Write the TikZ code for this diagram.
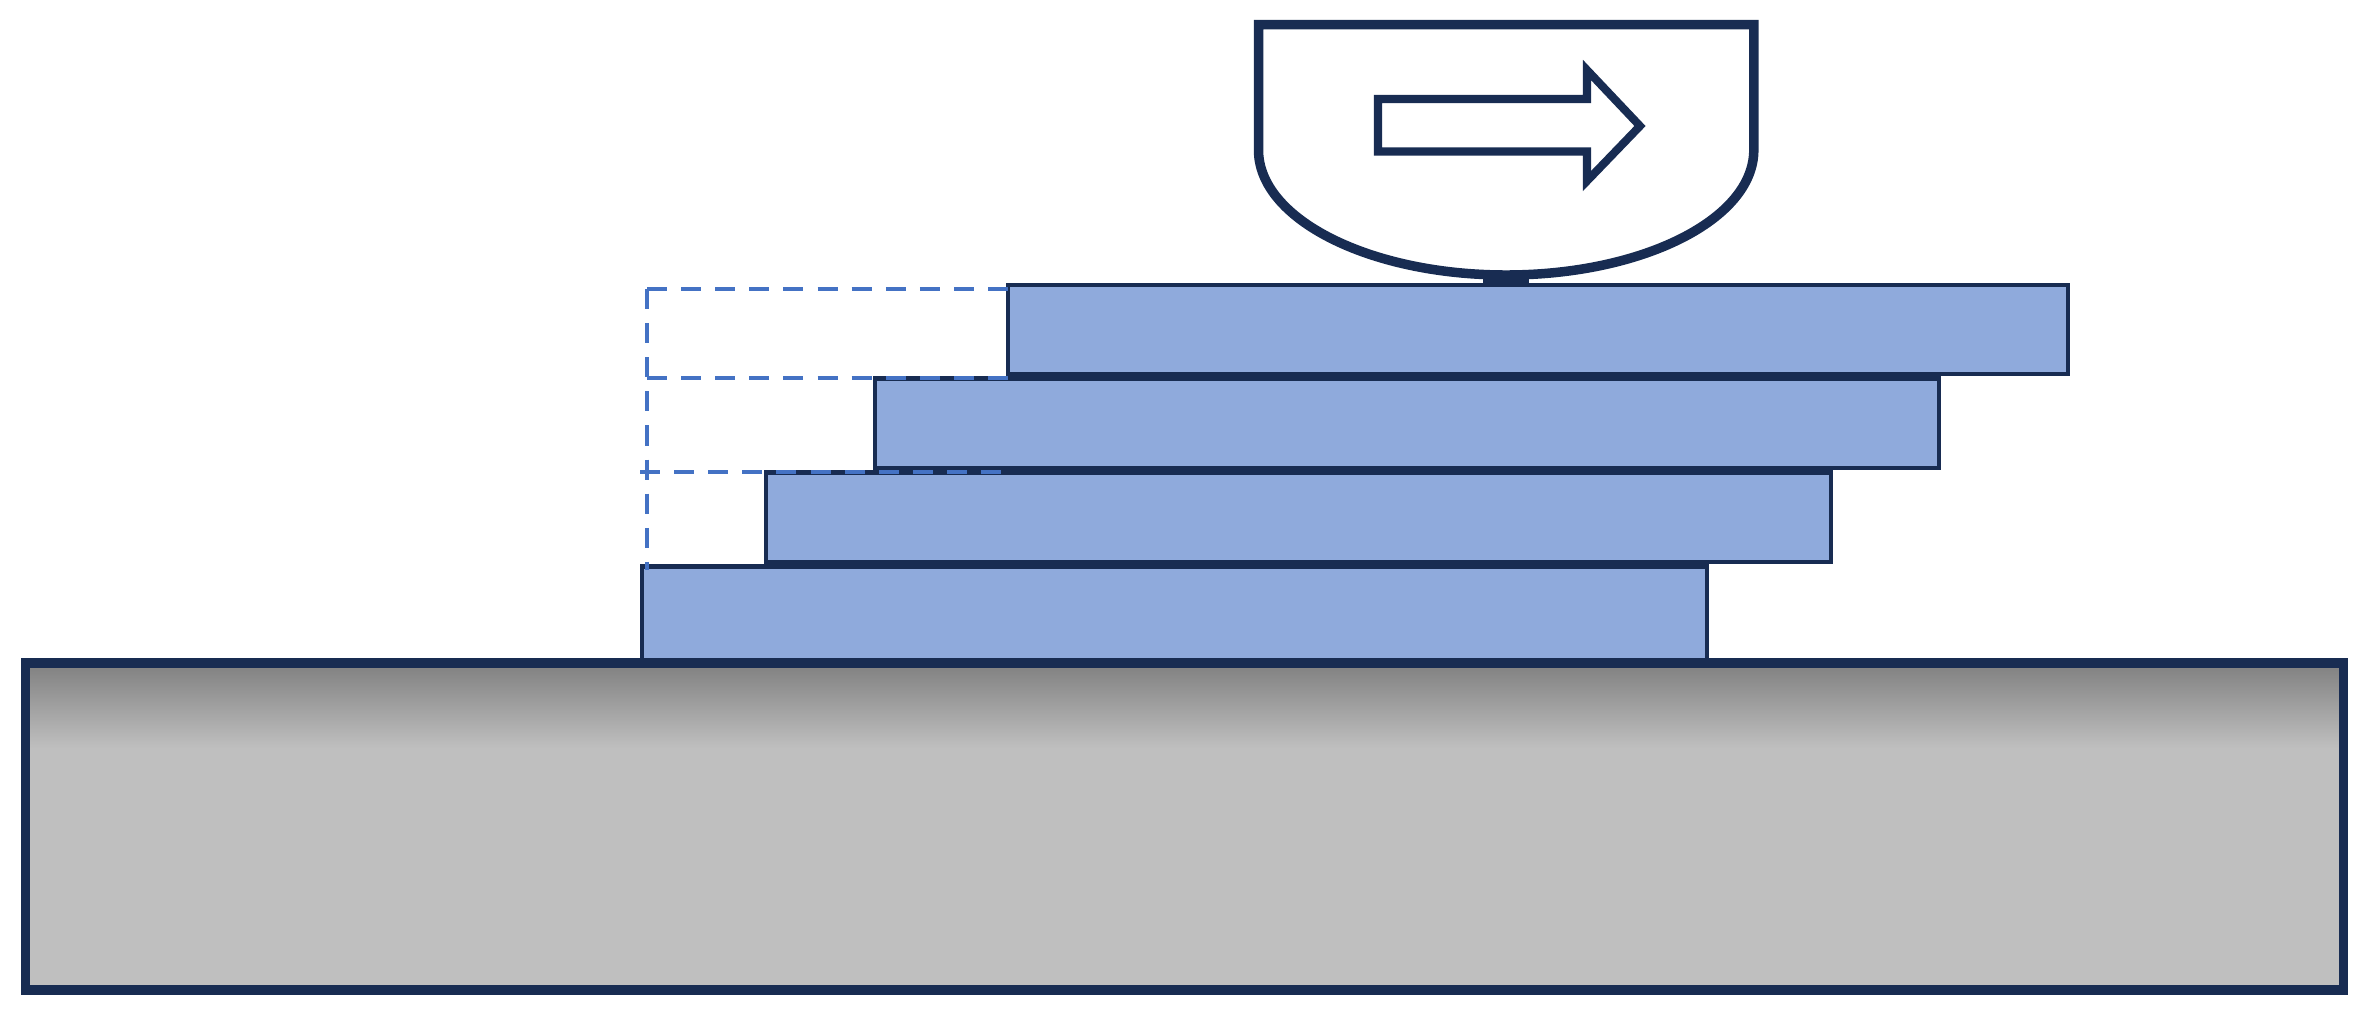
\documentclass[tikz,border=0pt]{standalone}
\definecolor{navy}{HTML}{182C52}
\definecolor{plateblue}{HTML}{8FAADC}
\definecolor{dashblue}{HTML}{4472C4}
\definecolor{basegray}{HTML}{BFBFBF}
\definecolor{basedark}{HTML}{808080}
\begin{document}
\begin{tikzpicture}[x=0.01cm,y=0.01cm,
  plate/.style={fill=plateblue,draw=navy,line width=1.3pt},
  ghost/.style={draw=dashblue,line width=1.4pt,dash pattern=on 5.7pt off 4pt},
  outline/.style={draw=navy,line width=2.8pt}]
\useasboundingbox (0,0) rectangle (2366,-1008);
% base block
\fill[basegray] (25.5,-663) rectangle (2343.5,-990);
\shade[top color=basedark,bottom color=basegray] (25.5,-663) rectangle (2343.5,-748);
\draw[outline] (25.5,-663) rectangle (2343.5,-990);
% plates, bottom to top
\draw[plate] (642,-566.5) rectangle (1707,-660);
\draw[plate] (766,-472.5) rectangle (1831,-562);
\draw[plate] (875,-378.5) rectangle (1939,-468);
\draw[plate] (1008,-285) rectangle (2068,-374);
% ghost outlines
\coordinate (g1) at (647,-289);
\coordinate (g1r) at (1008,-289);
\coordinate (g2) at (647,-378);
\coordinate (g2r) at (1008,-378);
\coordinate (g3) at (640,-472);
\coordinate (g3r) at (1008,-472);
\coordinate (gb) at (647,-570);
\draw[ghost] (g1) -- (g1r);
\draw[ghost] (g2) -- (g2r);
\draw[ghost] (g3) -- (g3r);
\draw[ghost] (g1) -- (gb);
% tool
\fill[navy] (1483,-271) rectangle (1529,-285);
\draw[navy,line width=2.7pt,fill=white,line join=miter]
  (1258.5,-150) -- (1258.5,-24.5) -- (1753.8,-24.5) -- (1753.8,-150)
  arc[start angle=0,end angle=-180,x radius=247.65,y radius=125] -- cycle;
% direction arrow
\draw[navy,line width=2.3pt,line join=miter]
  (1378,-99) -- (1587,-99) -- (1587,-70) -- (1640,-126) -- (1587,-181)
  -- (1587,-151.5) -- (1378,-151.5) -- cycle;
\end{tikzpicture}
\end{document}
